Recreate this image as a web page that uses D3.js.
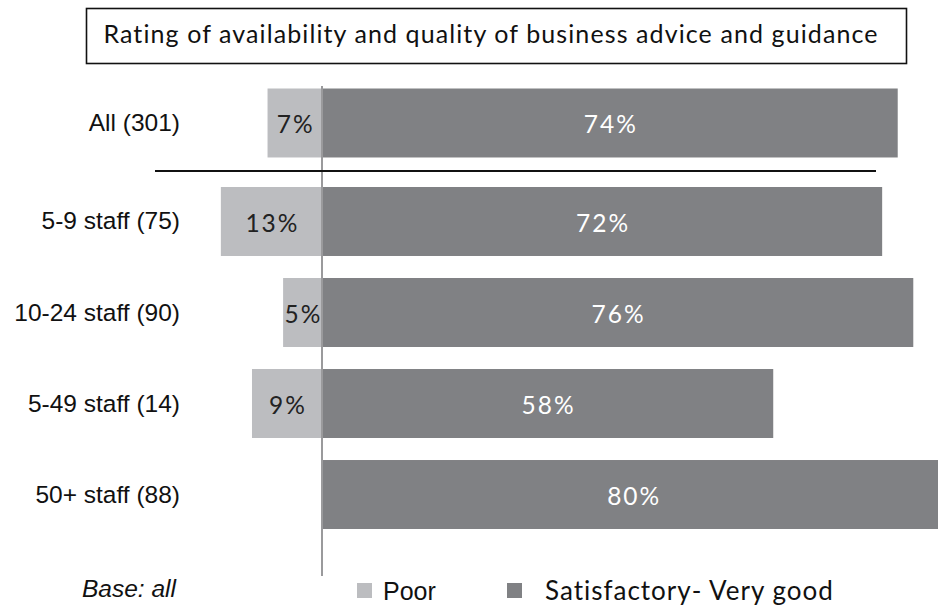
<!DOCTYPE html>
<html>
<head>
<meta charset="utf-8">
<script src="https://cdn.jsdelivr.net/npm/d3@7"></script>
<style>
  html, body { margin: 0; padding: 0; background: #fff; }
  svg { display: block; }
</style>
</head>
<body>
<svg id="chart" width="938" height="605"></svg>
<script>
// Rating of availability and quality of business advice, by firm size
const categories = ["All (301)", "5-9 staff (75)", "10-24 staff (90)", "5-49 staff (14)", "50+ staff (88)"];
const poorValues = [7, 13, 5, 9, 0];
const goodValues = [74, 72, 76, 58, 80];
const seriesNames = ["Poor", "Satisfactory- Very good"];
const titleText = "Rating of availability and quality of business advice and guidance";
const baseNote = "Base: all";

const colors = { poor: "#bcbdc0", good: "#808184" };
const humanist = "Lato, 'Open Sans', sans-serif";
const grotesk = "'Liberation Sans', Arial, sans-serif";

const svg = d3.select("#chart");

// Scales: poor runs left of zero, satisfactory right
const x = d3.scaleLinear().domain([-15, 80]).range([205.3, 944.4]);
const y = d3.scaleBand().domain(categories).range([96, 529]).paddingInner(0.242).paddingOuter(0);
const totalGap = 7.5; // extra space separating the "All" row from the size bands
const rowTop = d => y(d) - (d === categories[0] ? totalGap : 0);
const rowMid = d => rowTop(d) + y.bandwidth() / 2;

const rows = categories.map((c, i) => ({ cat: c, poor: poorValues[i], good: goodValues[i] }));

// Title box
svg.append("rect")
  .attr("x", 86.5).attr("y", 8.5).attr("width", 820).attr("height", 55)
  .attr("fill", "#fff").attr("stroke", "#111").attr("stroke-width", 1.6);
svg.append("text")
  .attr("x", 491).attr("y", 43)
  .attr("text-anchor", "middle")
  .attr("font-family", humanist).attr("font-size", 25).attr("letter-spacing", 1.1)
  .attr("fill", "#111")
  .text(titleText);

// Bars
const g = svg.append("g");
g.selectAll("rect.poor").data(rows.filter(d => d.poor > 0)).join("rect")
  .attr("class", "poor")
  .attr("x", d => x(-d.poor)).attr("width", d => x(0) - x(-d.poor))
  .attr("y", d => rowTop(d.cat)).attr("height", y.bandwidth())
  .attr("fill", colors.poor);
g.selectAll("rect.good").data(rows).join("rect")
  .attr("class", "good")
  .attr("x", x(0)).attr("width", d => x(d.good) - x(0))
  .attr("y", d => rowTop(d.cat)).attr("height", y.bandwidth())
  .attr("fill", colors.good);

// Zero line
svg.append("line")
  .attr("x1", x(0)).attr("x2", x(0)).attr("y1", 86).attr("y2", 576)
  .attr("stroke", "#9a9a9c").attr("stroke-width", 2);

// Separator under the total row
svg.append("line")
  .attr("x1", 155).attr("x2", 876).attr("y1", 171).attr("y2", 171)
  .attr("stroke", "#111").attr("stroke-width", 2);

// Value labels
const valueFont = { size: 24.5, spacing: 2 };
g.selectAll("text.poor").data(rows.filter(d => d.poor > 0)).join("text")
  .attr("class", "poor")
  .attr("x", d => (x(-d.poor) + x(0)) / 2 + valueFont.spacing / 2)
  .attr("y", d => rowMid(d.cat) + 10.5)
  .attr("text-anchor", "middle")
  .attr("font-family", humanist).attr("font-size", valueFont.size).attr("letter-spacing", valueFont.spacing)
  .attr("fill", "#222")
  .text(d => d.poor + "%");
g.selectAll("text.good").data(rows).join("text")
  .attr("class", "good")
  .attr("x", d => (x(0) + x(d.good)) / 2 + valueFont.spacing / 2)
  .attr("y", d => rowMid(d.cat) + 10.5)
  .attr("text-anchor", "middle")
  .attr("font-family", humanist).attr("font-size", valueFont.size).attr("letter-spacing", valueFont.spacing)
  .attr("fill", "#fff")
  .text(d => d.good + "%");

// Category labels
svg.selectAll("text.cat").data(categories).join("text")
  .attr("class", "cat")
  .attr("x", 180)
  .attr("y", d => rowMid(d) + 8)
  .attr("text-anchor", "end")
  .attr("font-family", grotesk).attr("font-size", 24.5).attr("fill", "#111")
  .text(d => d);

// Base note
svg.append("text")
  .attr("x", 82).attr("y", 597)
  .attr("font-family", grotesk).attr("font-style", "italic").attr("font-size", 24.5)
  .attr("fill", "#111")
  .text(baseNote);

// Legend
const legend = [
  { name: seriesNames[0], color: colors.poor, sx: 357, tx: 383, font: grotesk, size: 25, ls: 0 },
  { name: seriesNames[1], color: colors.good, sx: 507, tx: 545, font: humanist, size: 26, ls: 1 }
];
const lg = svg.selectAll("g.legend").data(legend).join("g").attr("class", "legend");
lg.append("rect")
  .attr("x", d => d.sx).attr("y", 583).attr("width", 15).attr("height", 15)
  .attr("fill", d => d.color);
lg.append("text")
  .attr("x", d => d.tx).attr("y", 600)
  .attr("font-family", d => d.font).attr("font-size", d => d.size)
  .attr("letter-spacing", d => d.ls)
  .attr("fill", "#111")
  .text(d => d.name);
</script>
</body>
</html>
